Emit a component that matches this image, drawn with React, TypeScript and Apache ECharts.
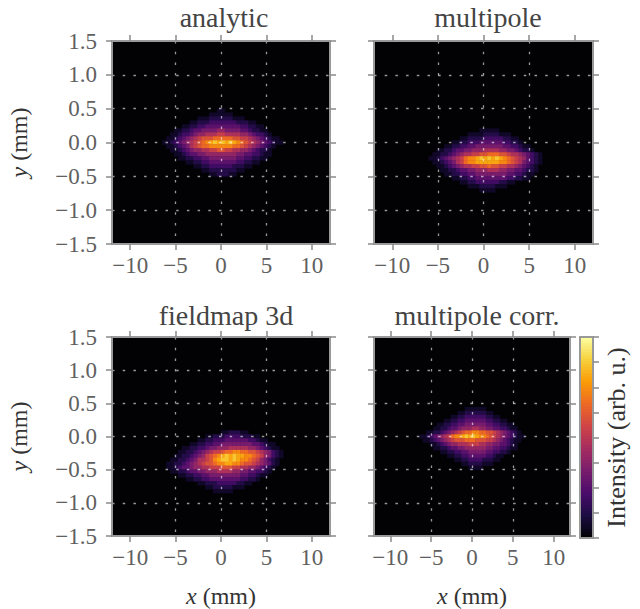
import React, { useEffect, useRef } from "react";
import * as echarts from "echarts";

const titles = ["analytic", "multipole", "fieldmap 3d", "multipole corr."];
const xTicks = [-10, -5, 0, 5, 10];
const cbLabel = "Intensity (arb. u.)";
const inferno = ["#020204", "#1b0c41", "#4a0c6b", "#781c6d", "#a52c60", "#cf4446", "#ed6925", "#fb9b06", "#f7d13d", "#fcffa4"];

// Intensity, hex digits 0-f; the columns and rows are cells around the beam centre.
const analyticTop = 8;
const analytic = [
  "00000000000000011000000000000000",
  "00000000000001111110000000000000",
  "00000000001112222221110000000000",
  "00000000112223333333222110000000",
  "00000011223344444444433221100000",
  "00001122344555566555544322110000",
  "00011233456677788777766543321000",
  "00112345678999aaaaa9988765432110",
  "01123456789abcdcdcdcba9876543211",
  "00112345789aabbbbbbaa98765432100",
  "00011234566778899887766543221000",
  "00001123445566666666554433211000",
  "00000112233445555555443322110000",
  "00000001122334444444332211000000",
  "00000000011223333332221100000000",
  "00000000000112222222110000000000",
  "00000000000001122211000000000000",
];
const multipoleTop = 3;
const multipole = [
  "00000000000000011111000000000000",
  "00000000000011112222111000000000",
  "00000000001122223333322110000000",
  "00000000112233344444433221000000",
  "00000011223344555555544332110000",
  "00001122344556667777665543221000",
  "00011223456778899aaa998776543210",
  "00112345678abbcdcdcdcba987643210",
  "00011234578abbccccccbba987543210",
  "00001123456778899a99887765432100",
  "00000112234455666777665544322100",
  "00000011223344555555554433211000",
  "00000000112233444444443322110000",
  "00000000001122333333221100000000",
  "00000000000011122221110000000000",
  "00000000000000011110000000000000",
];
const fieldmapTop = 1;
const fieldmap = [
  "00000000000000001122211000000000",
  "00000000000011222333322211000000",
  "00000000001122333444444332110000",
  "00000000112233445555555544321100",
  "00000011223345566677777665432110",
  "00000112234567889aabbaa998765321",
  "00001122345689abcdcdccbba9865321",
  "00011223457789bcddcdcbba98653210",
  "00112234567899abbccbba9987654210",
  "00112344566778889998877665432100",
  "00011223445566677776655443321000",
  "00000112233445555555544332110000",
  "00000001122334444444433221000000",
  "00000000001122233333221100000000",
  "00000000000011222221110000000000",
  "00000000000000111110000000000000",
];
const correctedTop = 7;
const corrected = [
  "00000000000000111111000000000000",
  "00000000000011222222110000000000",
  "00000000001122333333221100000000",
  "00000000112233444444332211000000",
  "00000011223344555555443322110000",
  "00000112234456667766554433211000",
  "00011223456789aabbaa998765432100",
  "0112345678abbcdcdcbba98765432110",
  "00112345678999aaa999887654321100",
  "00001123456677788877665544321000",
  "00000112234455666666554433211000",
  "00000001122334455555443322100000",
  "00000000011223344444332110000000",
  "00000000000112233332221100000000",
  "00000000000001122221110000000000",
  "00000000000000011110000000000000",
];

const panels = [
  { rows: analytic, top: analyticTop, box: [112, 41, 330, 244], yName: true, xName: false, title: [219, -2] },
  { rows: multipole, top: multipoleTop, box: [374, 41, 593, 244], yName: false, xName: false, title: [483, -2] },
  { rows: fieldmap, top: fieldmapTop, box: [112, 337, 330, 538], yName: true, xName: true, title: [221, 296] },
  { rows: corrected, top: correctedTop, box: [374, 337, 570, 538], yName: false, xName: true, title: [472, 296] },
];
const cbBox = [580, 337, 593, 538];
const intensityMax = 15;

const FONT = "'Liberation Serif', serif";
const AXIS = "#999999";
const LABEL = "#606060";
const NAME = "#333333";

const xCells = Array.from({ length: 56 }, (_, i) => String(i));
const yCells = Array.from({ length: 51 }, (_, i) => String(i));

function toCells(rows: string[], top: number) {
  const out: number[][] = [];
  rows.forEach((r, j) => {
    for (let i = 0; i < r.length; i++) {
      const v = parseInt(r[i], 16);
      if (v > 0) out.push([12 + i, 25 + top - j, v]);
    }
  });
  return out;
}

const line = { show: true, onZero: false, lineStyle: { color: AXIS, width: 2 } };
const tick = { show: true, inside: false, length: 6, lineStyle: { color: "#8a8a8a", width: 1.5 } };
const dots = { show: true, showMinLine: false, showMaxLine: false, lineStyle: { color: "rgba(255,255,255,0.6)", width: 1.3, type: [2.5, 8.2] as number[] } };
const labelStyle = { color: LABEL, fontFamily: FONT, fontSize: 23 };
const nameStyle = {
  color: NAME,
  fontFamily: FONT,
  fontSize: 24,
  rich: { i: { fontStyle: "italic", fontFamily: FONT, fontSize: 24, color: NAME }, n: { fontFamily: FONT, fontSize: 24, color: NAME } },
};

function buildOption() {
  const grid: any[] = [];
  const xAxis: any[] = [];
  const yAxis: any[] = [];
  const series: any[] = [];
  const title: any[] = [];

  panels.forEach((p, idx) => {
    const [l, t, r, b] = p.box;
    grid.push({ left: l, top: t, width: r - l, height: b - t, show: true, backgroundColor: "#020204", borderWidth: 0, containLabel: false });
    const xc = xAxis.length;
    const yc = yAxis.length;
    xAxis.push({ type: "category", gridIndex: idx, data: xCells, show: false });
    yAxis.push({ type: "category", gridIndex: idx, data: yCells, show: false });
    xAxis.push({
      type: "value", gridIndex: idx, position: "bottom", min: -12, max: 12, z: 6,
      axisLine: line, axisTick: { ...tick, customValues: xTicks }, splitLine: dots,
      axisLabel: { ...labelStyle, margin: 10, customValues: xTicks, formatter: (v: number) => String(v).replace("-", "\u2212") },
      name: p.xName ? "{i|x} {n|(mm)}" : "", nameLocation: "middle", nameGap: 48, nameTextStyle: nameStyle,
    });
    xAxis.push({
      type: "value", gridIndex: idx, position: "top", min: -12, max: 12, z: 6,
      axisLine: line, axisTick: { ...tick, customValues: xTicks }, splitLine: { show: false }, axisLabel: { show: false },
    });
    yAxis.push({
      type: "value", gridIndex: idx, position: "left", min: -1.5, max: 1.5, interval: 0.5, z: 6,
      axisLine: line, axisTick: tick, splitLine: dots,
      axisLabel: idx % 2 === 0
        ? { ...labelStyle, margin: 15, formatter: (v: number) => v.toFixed(1).replace("-", "\u2212") }
        : { show: false },
      name: p.yName ? "{i|y} {n|(mm)}" : "", nameLocation: "middle", nameRotate: 90, nameGap: 81, nameTextStyle: nameStyle,
    });
    yAxis.push({
      type: "value", gridIndex: idx, position: "right", min: -1.5, max: 1.5, interval: 0.5, z: 6,
      axisLine: line, axisTick: tick, splitLine: { show: false }, axisLabel: { show: false },
    });
    series.push({
      type: "heatmap", xAxisIndex: xc, yAxisIndex: yc, data: toCells(p.rows, p.top), z: 2,
      progressive: 0, itemStyle: { borderWidth: 0 }, emphasis: { disabled: true },
    });
    title.push({
      text: titles[idx], left: p.title[0], top: p.title[1], textAlign: "center",
      textStyle: { color: "#444444", fontFamily: FONT, fontSize: 28, fontWeight: "normal" },
    });
  });

  // colour bar
  const cbLevels = Array.from({ length: 67 }, (_, i) => String(i));
  const g = grid.length;
  const [l, t, r, b] = cbBox;
  grid.push({ left: l, top: t, width: r - l, height: b - t, show: false, containLabel: false });
  const xc = xAxis.length;
  const yc = yAxis.length;
  xAxis.push({ type: "category", gridIndex: g, data: ["0"], position: "bottom", z: 6, axisLine: line, axisTick: { show: false }, axisLabel: { show: false } });
  xAxis.push({ type: "category", gridIndex: g, data: ["0"], position: "top", z: 6, axisLine: line, axisTick: { show: false }, axisLabel: { show: false } });
  yAxis.push({ type: "category", gridIndex: g, data: cbLevels, show: false });
  yAxis.push({ type: "value", gridIndex: g, position: "left", min: 0, max: intensityMax, interval: intensityMax / 8, z: 6, axisLine: line, axisTick: { show: false }, axisLabel: { show: false }, splitLine: { show: false } });
  yAxis.push({
    type: "value", gridIndex: g, position: "right", min: 0, max: intensityMax, interval: intensityMax / 8, z: 6,
    axisLine: line, axisTick: tick, axisLabel: { show: false }, splitLine: { show: false },
    name: cbLabel, nameLocation: "middle", nameRotate: 90, nameGap: 10, nameTextStyle: { color: NAME, fontFamily: FONT, fontSize: 26 },
  });
  series.push({
    type: "heatmap", xAxisIndex: xc, yAxisIndex: yc, z: 2, progressive: 0, emphasis: { disabled: true },
    data: cbLevels.map((_, i) => [0, i, ((i + 0.5) / cbLevels.length) * intensityMax]),
  });

  return {
    animation: false,
    backgroundColor: "#ffffff",
    title,
    grid,
    xAxis,
    yAxis,
    series,
    visualMap: {
      show: false, type: "continuous", min: 0, max: intensityMax, dimension: 2,
      seriesIndex: series.map((_, i) => i), inRange: { color: inferno },
    },
  };
}

export default function App() {
  const ref = useRef<HTMLDivElement>(null);
  useEffect(() => {
    document.body.style.margin = "0";
    const chart = echarts.init(ref.current!, undefined, { renderer: "svg" });
    chart.setOption(buildOption() as any);
    return () => chart.dispose();
  }, []);
  return <div ref={ref} style={{ width: 640, height: 609 }} />;
}
